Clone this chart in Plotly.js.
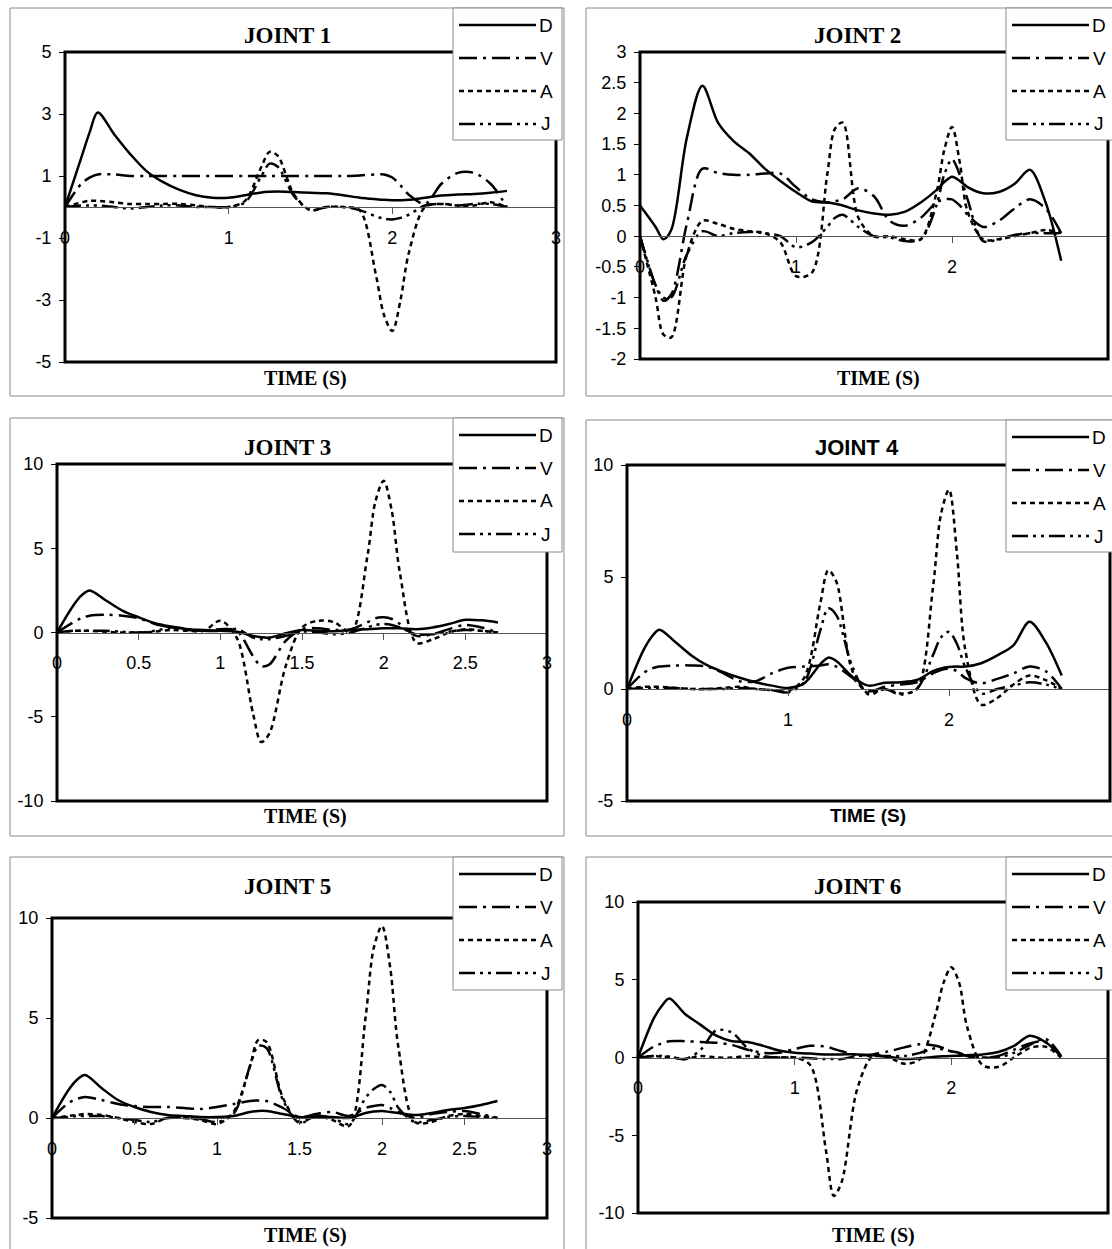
<!DOCTYPE html>
<html>
<head>
<meta charset="utf-8">
<script src="https://cdn.plot.ly/plotly-3.0.1.min.js"></script>
<style>html,body{margin:0;padding:0;background:#fff;}#chart{width:1112px;height:1249px;}</style>
</head>
<body>
<div id="chart"></div>
<script>
// ---------------- DATA ----------------
const TIME = [0, 0.1, 0.15, 0.2, 0.3, 0.4, 0.5, 0.6, 0.7, 0.8, 0.9, 1.0, 1.1, 1.2, 1.25, 1.3, 1.4, 1.5, 1.6, 1.7, 1.8, 1.9, 1.95, 2.0, 2.05, 2.1, 2.2, 2.3, 2.4, 2.5, 2.6, 2.7];
const SERIES_NAMES = ['D', 'V', 'A', 'J'];
const PANEL_TITLES = ['JOINT 1', 'JOINT 2', 'JOINT 3', 'JOINT 4', 'JOINT 5', 'JOINT 6'];
const X_AXIS_TITLE = 'TIME (S)';
const Y_TICKS = [[-5, -3, -1, 1, 3, 5], [-2, -1.5, -1, -0.5, 0, 0.5, 1, 1.5, 2, 2.5, 3], [-10, -5, 0, 5, 10], [-5, 0, 5, 10], [-5, 0, 5, 10], [-10, -5, 0, 5, 10]];
const X_TICKS = [[0, 1, 2, 3], [0, 1, 2, 3], [0, 0.5, 1, 1.5, 2, 2.5, 3], [0, 1, 2, 3], [0, 0.5, 1, 1.5, 2, 2.5, 3], [0, 1, 2, 3]];

const J1_D = [0, 1.6, 2.4, 3.05, 2.35, 1.7, 1.15, 0.8, 0.55, 0.38, 0.3, 0.3, 0.38, 0.47, 0.49, 0.5, 0.48, 0.46, 0.44, 0.38, 0.3, 0.25, 0.23, 0.22, 0.22, 0.23, 0.3, 0.37, 0.4, 0.42, 0.46, 0.52];
const J1_V = [0, 0.75, 0.95, 1.05, 1.05, 1.0, 1.0, 1.0, 1.0, 1.0, 1.0, 1.0, 1.0, 1.0, 1.0, 1.0, 1.0, 1.0, 1.0, 1.0, 1.02, 1.05, 1.05, 0.95, 0.7, 0.4, 0.1, 0.75, 1.1, 1.1, 0.75, 0.0];
const J1_A = [0, 0.15, 0.2, 0.2, 0.15, 0.1, 0.1, 0.1, 0.1, 0.05, 0.0, 0.0, 0.2, 1.3, 1.78, 1.65, 0.4, -0.1, 0.0, 0.0, -0.1, -2.2, -3.5, -4.0, -3.0, -1.5, 0.0, 0.1, 0.05, 0.05, 0.15, 0.0];
const J1_J = [0, 0.05, 0.05, 0.05, 0.0, -0.05, 0.0, 0.05, 0.05, 0.0, 0.0, 0.0, 0.15, 1.0, 1.4, 1.3, 0.35, -0.1, 0.0, 0.0, -0.1, -0.3, -0.38, -0.4, -0.35, -0.25, 0.05, 0.1, 0.05, 0.1, 0.1, 0.0];

const J2_D = [0.5, 0.15, -0.05, 0.1, 1.6, 2.45, 1.85, 1.55, 1.35, 1.1, 0.9, 0.72, 0.57, 0.55, 0.53, 0.5, 0.42, 0.37, 0.35, 0.4, 0.55, 0.75, 0.88, 0.97, 0.9, 0.8, 0.7, 0.72, 0.85, 1.08, 0.55, -0.4];
const J2_V = [0, -0.8, -1.05, -0.95, 0.2, 1.1, 1.03, 1.0, 1.0, 1.02, 1.02, 0.8, 0.6, 0.55, 0.57, 0.6, 0.78, 0.65, 0.25, 0.17, 0.3, 0.55, 0.6, 0.6, 0.5, 0.35, 0.15, 0.25, 0.45, 0.6, 0.45, 0.05];
const J2_A = [0, -1.0, -1.6, -1.65, -0.3, 0.25, 0.2, 0.12, 0.08, 0.05, -0.1, -0.65, -0.6, 1.0, 1.75, 1.85, 0.3, 0.0, 0.0, -0.05, -0.05, 0.7, 1.4, 1.78, 1.2, 0.4, -0.05, -0.05, 0.0, 0.05, 0.1, 0.05];
const J2_J = [0, -0.8, -1.0, -1.0, -0.3, 0.08, 0.0, 0.05, 0.07, 0.05, 0.0, -0.18, -0.1, 0.15, 0.3, 0.35, 0.15, 0.0, -0.02, -0.08, -0.05, 0.5, 1.0, 1.25, 1.0, 0.6, -0.08, -0.05, 0.02, 0.05, 0.05, 0.05];

const J3_D = [0, 1.6, 2.2, 2.5, 1.9, 1.3, 0.9, 0.55, 0.35, 0.2, 0.15, 0.1, 0.05, -0.2, -0.28, -0.3, -0.05, 0.15, 0.1, 0.08, 0.15, 0.2, 0.22, 0.25, 0.25, 0.25, 0.2, 0.3, 0.5, 0.75, 0.72, 0.6];
const J3_V = [0, 0.6, 0.85, 1.0, 1.05, 1.0, 0.85, 0.5, 0.3, 0.15, 0.1, 0.2, 0.1, -1.4, -2.0, -1.9, -0.5, 0.2, 0.25, 0.15, 0.2, 0.6, 0.85, 0.9, 0.8, 0.5, -0.2, -0.1, 0.2, 0.45, 0.3, 0.0];
const J3_A = [0, 0.1, 0.1, 0.1, 0.05, 0.0, 0.0, 0.05, 0.15, 0.1, 0.1, 0.7, -0.3, -4.8, -6.5, -6.0, -2.0, 0.3, 0.7, 0.6, 0.0, 4.5, 7.8, 9.0, 7.2, 3.5, -0.6, -0.4, 0.0, 0.2, 0.1, 0.0];
const J3_J = [0, 0.1, 0.1, 0.1, 0.1, 0.05, 0.0, 0.1, 0.3, 0.2, 0.1, 0.1, 0.2, -0.3, -0.4, -0.4, -0.2, 0.05, 0.0, -0.1, 0.0, 0.3, 0.45, 0.5, 0.45, 0.3, -0.1, -0.1, 0.05, 0.15, 0.1, 0.0];

const J4_D = [0, 1.7, 2.3, 2.65, 2.1, 1.5, 1.05, 0.75, 0.5, 0.3, 0.15, 0.05, 0.25, 1.1, 1.4, 1.25, 0.55, 0.15, 0.28, 0.3, 0.4, 0.8, 0.92, 0.98, 1.0, 1.0, 1.15, 1.5, 1.95, 3.0, 2.1, 0.6];
const J4_V = [0, 0.7, 0.9, 1.0, 1.05, 1.05, 1.0, 0.7, 0.35, 0.35, 0.7, 0.95, 1.0, 1.05, 1.1, 1.0, 0.5, -0.1, 0.1, 0.2, 0.3, 0.7, 0.85, 0.9, 0.8, 0.5, 0.25, 0.45, 0.7, 1.0, 0.8, 0.0];
const J4_A = [0, 0.1, 0.1, 0.1, 0.05, 0.0, 0.0, 0.05, 0.1, 0.0, -0.05, -0.1, 0.5, 3.8, 5.3, 4.8, 0.8, -0.2, 0.0, -0.2, 0.0, 4.5, 7.8, 8.9, 6.0, 1.8, -0.7, -0.4, 0.2, 0.6, 0.4, 0.0];
const J4_J = [0, 0.05, 0.05, 0.05, 0.05, 0.0, 0.0, 0.0, 0.05, 0.0, -0.05, -0.15, 0.3, 2.6, 3.6, 3.3, 1.0, -0.25, 0.0, -0.25, 0.0, 1.5, 2.3, 2.55, 2.0, 1.0, -0.2, 0.0, 0.15, 0.3, 0.2, 0.0];

const J5_D = [0, 1.4, 1.9, 2.15, 1.5, 0.9, 0.55, 0.3, 0.15, 0.1, 0.05, 0.05, 0.1, 0.3, 0.35, 0.35, 0.2, 0.05, 0.05, 0.05, 0.0, 0.25, 0.32, 0.35, 0.3, 0.25, 0.15, 0.25, 0.4, 0.5, 0.65, 0.85];
const J5_V = [0, 0.75, 0.95, 1.05, 0.9, 0.7, 0.6, 0.55, 0.55, 0.5, 0.45, 0.55, 0.7, 0.85, 0.88, 0.85, 0.5, 0.05, 0.2, 0.3, 0.1, 0.5, 0.6, 0.65, 0.5, 0.3, 0.0, 0.2, 0.3, 0.35, 0.2, 0.0];
const J5_A = [0, 0.1, 0.15, 0.2, 0.15, 0.0, -0.2, -0.3, 0.0, 0.0, -0.1, -0.3, 0.3, 2.6, 3.9, 3.8, 1.0, -0.2, 0.1, -0.1, -0.4, 5.0, 8.5, 9.6, 7.5, 3.5, -0.2, -0.2, 0.1, 0.2, 0.1, 0.0];
const J5_J = [0, 0.05, 0.1, 0.1, 0.1, 0.0, -0.1, -0.2, 0.0, 0.0, -0.05, -0.2, 0.2, 2.6, 3.6, 3.5, 0.9, -0.25, 0.1, 0.0, -0.3, 1.0, 1.45, 1.65, 1.3, 0.5, -0.2, -0.1, 0.05, 0.1, 0.05, 0.0];

const J6_D = [0, 2.5, 3.3, 3.8, 2.8, 2.1, 1.4, 1.05, 1.0, 0.75, 0.45, 0.3, 0.25, 0.2, 0.2, 0.2, 0.2, 0.15, 0.05, -0.1, -0.05, 0.05, 0.08, 0.1, 0.12, 0.15, 0.2, 0.35, 0.75, 1.4, 1.0, 0.1];
const J6_V = [0, 0.7, 0.9, 1.05, 1.05, 1.0, 0.95, 0.8, 0.5, 0.3, 0.3, 0.55, 0.75, 0.7, 0.55, 0.4, 0.15, 0.2, 0.4, 0.65, 0.85, 0.75, 0.6, 0.4, 0.25, 0.1, 0.0, 0.1, 0.5, 0.9, 1.0, 0.05];
const J6_A = [0, 0.1, 0.05, 0.05, -0.1, 0.1, 0.0, 0.0, 0.1, 0.0, 0.0, 0.0, -0.5, -6.0, -8.9, -8.0, -2.0, 0.1, 0.0, -0.4, -0.1, 2.8, 4.8, 5.8, 4.8, 2.0, -0.5, -0.6, 0.0, 0.6, 0.7, 0.0];
const J6_J = [0, 0.1, 0.1, 0.05, -0.1, 0.5, 1.75, 1.6, 0.6, 0.1, 0.0, 0.0, -0.05, -0.1, -0.1, -0.1, 0.1, 0.1, 0.1, 0.1, 0.3, 0.6, 0.5, 0.4, 0.3, 0.1, 0.0, 0.0, 0.3, 0.8, 1.2, 0.1];

const DATA = [
  [J1_D, J1_V, J1_A, J1_J],
  [J2_D, J2_V, J2_A, J2_J],
  [J3_D, J3_V, J3_A, J3_J],
  [J4_D, J4_V, J4_A, J4_J],
  [J5_D, J5_V, J5_A, J5_J],
  [J6_D, J6_V, J6_A, J6_J]
];

// ---------------- LAYOUT (pixel positions) ----------------
const W = 1112, H = 1249;
const PLOT_BOX = [[65, 556, 52, 362], [640, 1108, 52, 359], [57, 547, 464, 801], [627, 1110, 465, 801], [52, 547, 918, 1218], [638, 1108, 902, 1213]];
const OUTER_BOX = [[10, 564, 8, 396], [586, 1115, 8, 396], [10, 564, 418, 836], [586, 1115, 420, 836], [10, 564, 857, 1252], [586, 1115, 857, 1252]];
const LEGEND_BOX = [[453, 562, 8, 140], [1006, 1115, 8, 140], [453, 562, 418, 552], [1006, 1115, 420, 552], [453, 562, 857, 990], [1006, 1115, 857, 990]];
const TITLE_POS = [[287, 36], [857, 36], [287, 448], [857, 448], [287, 886], [857, 886]];
const XTITLE_POS = [[305, 379], [878, 379], [305, 816], [868, 815], [305, 1235], [873, 1235]];
const TITLE_SERIF = [true, true, true, false, true, true];
const DASH = ['solid', '18px,6px,3px,6px', '5px,4px', '16px,5px,3px,5px,3px,5px'];
const SANS = 'Liberation Sans, Arial, sans-serif';
const SERIF = 'Liberation Serif, Times New Roman, serif';
const LINE_W = 2.5;

const px = v => v / W;
const py = v => 1 - v / H;

const traces = [], shapes = [], annotations = [];
const layout = {
  width: W, height: H,
  margin: {l: 0, r: 0, t: 0, b: 0},
  paper_bgcolor: '#ffffff', plot_bgcolor: 'rgba(0,0,0,0)',
  showlegend: false, shapes: shapes, annotations: annotations,
  font: {family: SANS, color: '#000'}
};

DATA.forEach((series, i) => {
  const n = i + 1;
  const sfx = n === 1 ? '' : String(n);
  const xa = 'x' + sfx, ya = 'y' + sfx;
  const [L, R, T, B] = PLOT_BOX[i];
  const yt = Y_TICKS[i];
  const yr = [Math.min(...yt), Math.max(...yt)];
  const yd = [py(B), py(T)];
  const zeroPos = yd[0] + (0 - yr[0]) / (yr[1] - yr[0]) * (yd[1] - yd[0]);

  // outer chart-area border
  const [oL, oR, oT, oB] = OUTER_BOX[i];
  shapes.push({type: 'rect', xref: 'paper', yref: 'paper', x0: px(oL), x1: px(oR), y0: py(oB), y1: py(oT),
    line: {color: '#8a8a8a', width: 1}, fillcolor: 'rgba(0,0,0,0)', layer: 'below'});

  layout['xaxis' + sfx] = {
    domain: [px(L), px(R)], range: [0, 3], anchor: 'free', position: zeroPos,
    showline: true, linecolor: '#555', linewidth: 1,
    ticks: 'outside', ticklen: 6, tickwidth: 1, tickcolor: '#555',
    tickmode: 'array', tickvals: X_TICKS[i], ticktext: X_TICKS[i].map(String),
    tickfont: {family: SANS, size: 18, color: '#000'}, ticklabelstandoff: 8,
    showgrid: false, zeroline: false, fixedrange: true
  };
  layout['yaxis' + sfx] = {
    domain: yd, range: yr, anchor: xa,
    showline: false, ticks: 'outside', ticklen: 5, tickwidth: 1, tickcolor: '#000',
    tickmode: 'array', tickvals: yt, ticktext: yt.map(String),
    tickfont: {family: SANS, size: 18, color: '#000'}, ticklabelstandoff: 4,
    showgrid: false, zeroline: false, fixedrange: true
  };

  series.forEach((ys, s) => {
    traces.push({
      type: 'scatter', mode: 'lines', name: SERIES_NAMES[s],
      x: TIME, y: ys, xaxis: xa, yaxis: ya,
      line: {color: '#000', width: LINE_W, dash: DASH[s], shape: 'spline', smoothing: 0.9},
      hoverinfo: 'skip'
    });
  });

  // plot-area frame
  shapes.push({type: 'rect', xref: xa + ' domain', yref: ya + ' domain', x0: 0, x1: 1, y0: 0, y1: 1,
    line: {color: '#000', width: 3}, fillcolor: 'rgba(0,0,0,0)', layer: 'above'});

  // legend
  const [lL, lR, lT, lB] = LEGEND_BOX[i];
  shapes.push({type: 'rect', xref: 'paper', yref: 'paper', x0: px(lL), x1: px(lR), y0: py(lB), y1: py(lT),
    line: {color: '#8a8a8a', width: 1}, fillcolor: '#ffffff', layer: 'above'});
  SERIES_NAMES.forEach((nm, s) => {
    const yy = lT + 17 + 33 * s;
    shapes.push({type: 'line', xref: 'paper', yref: 'paper', x0: px(lL + 6), x1: px(lL + 83), y0: py(yy), y1: py(yy),
      line: {color: '#000', width: LINE_W, dash: DASH[s]}, layer: 'above'});
    annotations.push({xref: 'paper', yref: 'paper', x: px(lL + 93), y: py(yy), text: nm, showarrow: false,
      xanchor: 'center', yanchor: 'middle', font: {family: SANS, size: 19, color: '#000'}});
  });

  // titles
  const tf = TITLE_SERIF[i] ? SERIF : SANS;
  annotations.push({xref: 'paper', yref: 'paper', x: px(TITLE_POS[i][0]), y: py(TITLE_POS[i][1]), text: PANEL_TITLES[i],
    showarrow: false, xanchor: 'center', yanchor: 'middle', font: {family: tf, size: TITLE_SERIF[i] ? 23 : 22, weight: 'bold', color: '#000'}});
  annotations.push({xref: 'paper', yref: 'paper', x: px(XTITLE_POS[i][0]), y: py(XTITLE_POS[i][1]), text: X_AXIS_TITLE,
    showarrow: false, xanchor: 'center', yanchor: 'middle', font: {family: tf, size: TITLE_SERIF[i] ? 20 : 19, weight: 'bold', color: '#000'}});
});

Plotly.newPlot('chart', traces, layout, {staticPlot: true, displayModeBar: false});
</script>
</body>
</html>
